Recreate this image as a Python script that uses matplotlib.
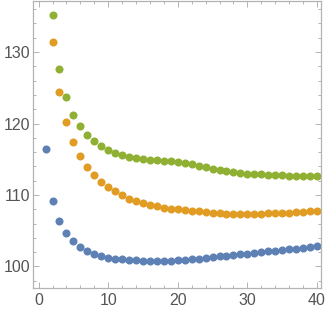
import numpy as np
import matplotlib
matplotlib.use("Agg")
import matplotlib.pyplot as plt
from matplotlib.ticker import MultipleLocator

plt.rcParams['font.family'] = ['Liberation Sans', 'DejaVu Sans']

# values
x_blue = list(range(1, 41))
blue = [116.4, 109.2, 106.3, 104.65, 103.5, 102.7, 102.2, 101.8, 101.5, 101.25,
        101.07, 100.98, 100.9, 100.85, 100.8, 100.75, 100.75, 100.75, 100.8, 100.85,
        100.95, 101.0, 101.1, 101.2, 101.3, 101.4, 101.5, 101.6, 101.7, 101.8,
        101.9, 102.0, 102.1, 102.2, 102.3, 102.4, 102.5, 102.6, 102.7, 102.8]

x_rest = list(range(2, 41))
orange = [131.4, 124.4, 120.2, 117.4, 115.5, 113.95, 112.8, 111.85, 111.15,
          110.5, 110.0, 109.5, 109.15, 108.85, 108.6, 108.4, 108.25, 108.1, 108.0,
          107.9, 107.8, 107.7, 107.6, 107.5, 107.45, 107.4, 107.38, 107.37, 107.37,
          107.38, 107.4, 107.42, 107.45, 107.5, 107.55, 107.6, 107.65, 107.7, 107.8]
green = [135.2, 127.7, 123.7, 121.25, 119.6, 118.45, 117.5, 116.8, 116.3,
         115.9, 115.6, 115.35, 115.2, 115.05, 114.95, 114.85, 114.75, 114.7, 114.65,
         114.55, 114.35, 114.1, 113.9, 113.7, 113.5, 113.35, 113.2, 113.1, 113.0,
         112.95, 112.9, 112.85, 112.8, 112.75, 112.72, 112.7, 112.68, 112.66, 112.65]

fig = plt.figure(figsize=(3.27, 3.14), dpi=100)
ax = fig.add_axes([0.101, 0.083, 0.881, 0.915])

ms = 5.8
ax.plot(x_blue, blue, 'o', color='#5E81B5', ms=ms, mec='none')
ax.plot(x_rest, orange, 'o', color='#E19C24', ms=ms, mec='none')
ax.plot(x_rest, green, 'o', color='#8FB032', ms=ms, mec='none')

ax.set_xlim(-0.8, 40.6)
ax.set_ylim(97.0, 137.2)

ax.xaxis.set_major_locator(MultipleLocator(10))
ax.xaxis.set_minor_locator(MultipleLocator(2))
ax.yaxis.set_major_locator(MultipleLocator(10))
ax.yaxis.set_minor_locator(MultipleLocator(2))

for s in ax.spines.values():
    s.set_color('#b3b3b3')
    s.set_linewidth(0.9)

ax.tick_params(which='both', direction='in', top=True, right=True,
               color='#b3b3b3', labelcolor='#555555', labelsize=11.5, width=0.7)
ax.tick_params(which='major', length=4, pad=2)
ax.tick_params(which='minor', length=2)
ax.tick_params(axis='x', which='major', pad=4)

fig.savefig('out.png', dpi=100)
